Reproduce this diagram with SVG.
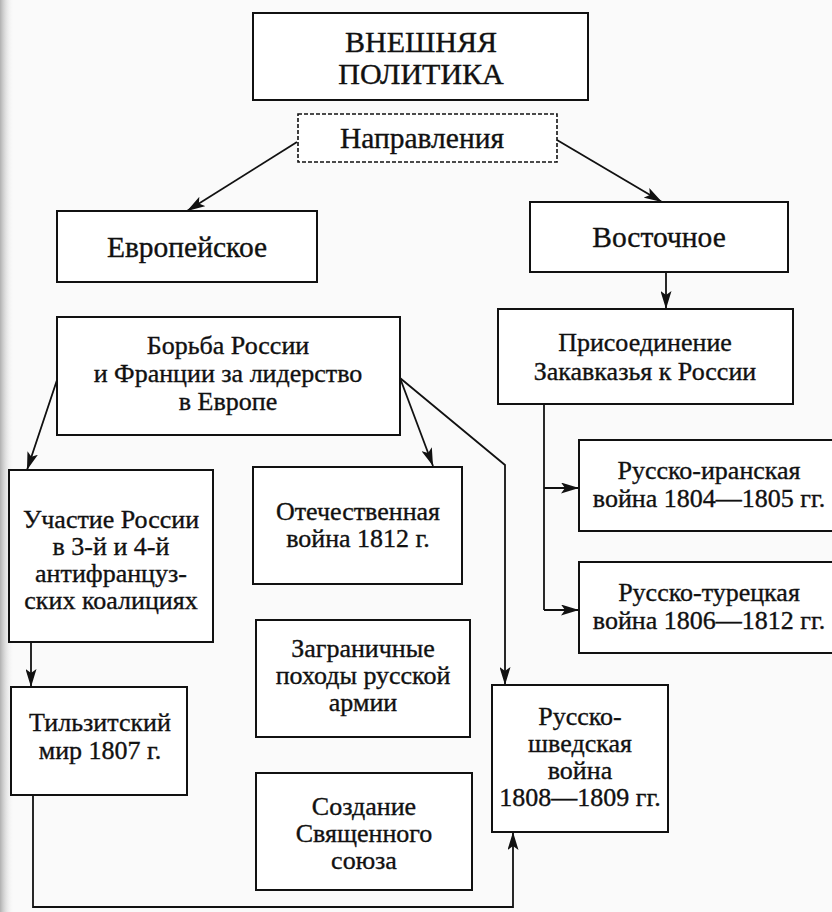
<svg xmlns="http://www.w3.org/2000/svg" width="832" height="912" viewBox="0 0 832 912">
  <defs>
    <marker id="ah" markerUnits="userSpaceOnUse" markerWidth="18" markerHeight="11" refX="18" refY="5.5" orient="auto">
      <path d="M0,0 L18,5.5 L0,11 L4,5.5 z" fill="#111"/>
    </marker>
    <linearGradient id="edge" x1="0" y1="0" x2="1" y2="0">
      <stop offset="0" stop-color="#b0b0b0"/>
      <stop offset="1" stop-color="#fafafa" stop-opacity="0"/>
    </linearGradient>
  </defs>
  <style>
    .box { fill: #ffffff; stroke: #111; stroke-width: 2; }
    .dash { fill: #ffffff; stroke: #111; stroke-width: 1.6; stroke-dasharray: 4 2; }
    .t { font-family: "Liberation Serif", "Times New Roman", serif; font-size: 26px; fill: #111; stroke: #111; stroke-width: 0.35; text-anchor: middle; }
    .big { font-size: 30px; }
    .mid { font-size: 29.5px; }
    .c { fill: none; stroke: #111; stroke-width: 1.8; }
    .a { marker-end: url(#ah); }
  </style>
  <rect x="0" y="0" width="832" height="912" fill="#fafafa"/>
  <rect x="0" y="0" width="14" height="912" fill="url(#edge)"/>

  <g id="connectors">
    <line class="c a" x1="297" y1="142" x2="187" y2="211"/>
    <line class="c a" x1="557" y1="140" x2="662" y2="202"/>
    <line class="c a" x1="666" y1="272" x2="666" y2="309"/>
    <polyline class="c" points="544,404 544,610"/>
    <line class="c a" x1="544" y1="488" x2="579" y2="488"/>
    <line class="c a" x1="544" y1="610" x2="579" y2="610"/>
    <line class="c a" x1="58" y1="377" x2="27" y2="470"/>
    <line class="c a" x1="400" y1="378" x2="433" y2="466"/>
    <polyline class="c a" points="400,378 505,465 505,685"/>
    <line class="c a" x1="31" y1="642" x2="31" y2="687"/>
    <polyline class="c a" points="33,795 33,907 513,907 513,832"/>
  </g>

  <g id="n-title">
    <rect class="box" x="253" y="13" width="335" height="87"/>
    <text class="t big" x="421" y="52">ВНЕШНЯЯ</text>
    <text class="t big" x="421" y="84">ПОЛИТИКА</text>
  </g>
  <g id="n-directions">
    <rect class="dash" x="298" y="114" width="259" height="48"/>
    <text class="t mid" x="422" y="148">Направления</text>
  </g>
  <g id="n-european">
    <rect class="box" x="57" y="211" width="260" height="71"/>
    <text class="t mid" x="187" y="257">Европейское</text>
  </g>
  <g id="n-eastern">
    <rect class="box" x="530" y="202" width="258" height="70"/>
    <text class="t mid" x="659" y="247">Восточное</text>
  </g>
  <g id="n-struggle">
    <rect class="box" x="57" y="317" width="343" height="118"/>
    <text class="t" x="228" y="354">Борьба России</text>
    <text class="t" x="228" y="382">и Франции за лидерство</text>
    <text class="t" x="228" y="410">в Европе</text>
  </g>
  <g id="n-transcaucasia">
    <rect class="box" x="498" y="309" width="295" height="95"/>
    <text class="t" x="645" y="351">Присоединение</text>
    <text class="t" x="645" y="380">Закавказья к России</text>
  </g>
  <g id="n-coalitions">
    <rect class="box" x="9" y="470" width="204" height="172"/>
    <text class="t" x="111" y="528">Участие России</text>
    <text class="t" x="111" y="555">в 3-й и 4-й</text>
    <text class="t" x="111" y="582">антифранцуз-</text>
    <text class="t" x="111" y="609">ских коалициях</text>
  </g>
  <g id="n-patriotic">
    <rect class="box" x="253" y="467" width="209" height="117"/>
    <text class="t" x="358" y="520">Отечественная</text>
    <text class="t" x="358" y="547">война 1812 г.</text>
  </g>
  <g id="n-iran">
    <rect class="box" x="579" y="440" width="258" height="91"/>
    <text class="t" x="709" y="479">Русско-иранская</text>
    <text class="t" x="709" y="507">война 1804—1805 гг.</text>
  </g>
  <g id="n-turkey">
    <rect class="box" x="579" y="562" width="258" height="91"/>
    <text class="t" x="709" y="601">Русско-турецкая</text>
    <text class="t" x="709" y="629">война 1806—1812 гг.</text>
  </g>
  <g id="n-campaigns">
    <rect class="box" x="256" y="620" width="214" height="117"/>
    <text class="t" x="363" y="657">Заграничные</text>
    <text class="t" x="363" y="684">походы русской</text>
    <text class="t" x="363" y="711">армии</text>
  </g>
  <g id="n-tilsit">
    <rect class="box" x="11" y="687" width="176" height="108"/>
    <text class="t" x="100" y="731">Тильзитский</text>
    <text class="t" x="100" y="759">мир 1807 г.</text>
  </g>
  <g id="n-sweden">
    <rect class="box" x="492" y="685" width="176" height="147"/>
    <text class="t" x="580" y="725">Русско-</text>
    <text class="t" x="580" y="752">шведская</text>
    <text class="t" x="580" y="779">война</text>
    <text class="t" x="580" y="806">1808—1809 гг.</text>
  </g>
  <g id="n-holy">
    <rect class="box" x="256" y="773" width="216" height="117"/>
    <text class="t" x="364" y="815">Создание</text>
    <text class="t" x="364" y="842">Священного</text>
    <text class="t" x="364" y="869">союза</text>
  </g>
</svg>
